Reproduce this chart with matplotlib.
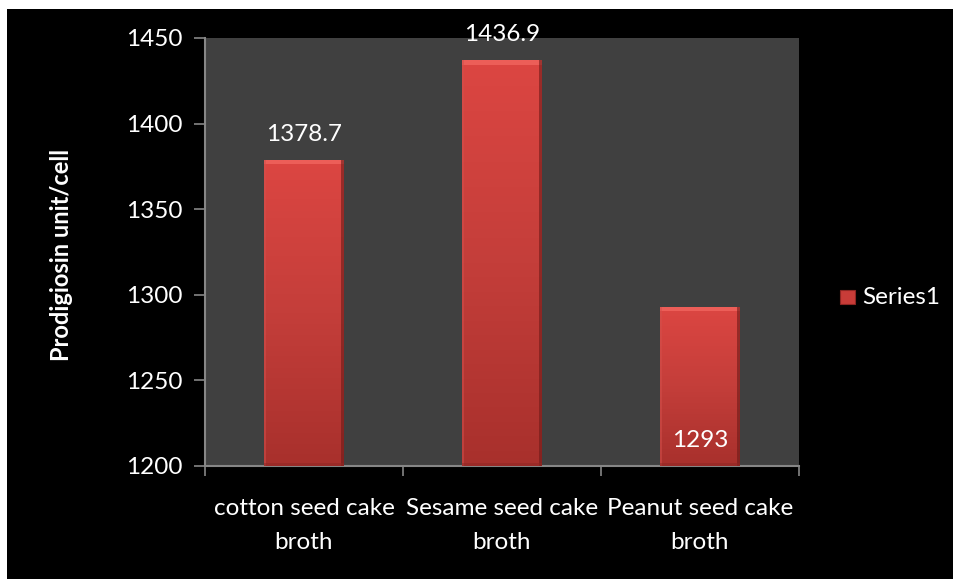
import matplotlib
matplotlib.use("Agg")
import matplotlib.pyplot as plt
import numpy as np
from matplotlib.patches import Rectangle
from matplotlib.colors import LinearSegmentedColormap

categories = ["cotton seed cake\nbroth", "Sesame seed cake\nbroth", "Peanut seed cake\nbroth"]
values = [1378.7, 1436.9, 1293]
value_labels = ["1378.7", "1436.9", "1293"]
yticks = [1200, 1250, 1300, 1350, 1400, 1450]
series_name = "Series1"
ylabel = "Prodigiosin unit/cell"

plt.rcParams['font.family'] = ['Lato', 'DejaVu Sans']
W, H = 954, 579
FS = 17.5
fig = plt.figure(figsize=(W/100, H/100), dpi=100, facecolor="white")
bg = Rectangle((7/W, 0), 1 - 7/W, 1 - 9/H, transform=fig.transFigure,
               facecolor="black", edgecolor="none", zorder=-10)
fig.add_artist(bg)

ax = fig.add_axes([205/W, 1 - 466/H, (799-205)/W, (466-38)/H])
ax.set_zorder(1)
ax.set_facecolor("#404040")
ax.set_ylim(1200, 1450)
ax.set_xlim(-0.5, 2.5)

x = np.arange(len(values))
bw = 0.4
bars = ax.bar(x, [v - 1200 for v in values], bottom=1200, width=bw,
              color="#C83C38", edgecolor="none", zorder=2)

cmap = LinearSegmentedColormap.from_list("r", ["#A8302C", "#C43E3A", "#DC4642"])
grad = np.linspace(0, 1, 256).reshape(-1, 1)
for b in bars:
    x0, y0 = b.get_x(), b.get_y()
    w, h = b.get_width(), b.get_height()
    im = ax.imshow(grad, extent=[x0, x0 + w, y0, y0 + h], origin="lower",
                   cmap=cmap, aspect="auto", zorder=3)
    im.set_clip_path(b)
    ax.add_patch(Rectangle((x0, y0 + h - 2.5), w, 2.5, facecolor="#EC5E58",
                           edgecolor="none", zorder=4))
    ax.add_patch(Rectangle((x0 + w - 0.012, y0), 0.012, h, facecolor="#6E1A18",
                           edgecolor="none", alpha=0.6, zorder=4))
    ax.add_patch(Rectangle((x0, y0), 0.008, h, facecolor="#D4504C",
                           edgecolor="none", alpha=0.5, zorder=4))
    ax.add_patch(Rectangle((x0, y0), w, 2.0, facecolor="#8E2623",
                           edgecolor="none", alpha=0.5, zorder=4))
ax.set_xlim(-0.5, 2.5)
ax.set_ylim(1200, 1450)

for i, (v, lab) in enumerate(zip(values, value_labels)):
    if i == 2:
        ax.text(i, 1215, lab, ha="center", va="center", color="white", fontsize=FS, zorder=5)
    else:
        ax.text(i, v + 15, lab, ha="center", va="center", color="white", fontsize=FS,
                zorder=5, clip_on=False)

ax.set_yticks(yticks)
ax.set_yticklabels([str(t) for t in yticks], color="white", fontsize=FS)
ax.set_xticks(x)
ax.set_xticklabels(categories, color="white", fontsize=FS, linespacing=1.75)
ax.set_xticks([-0.5, 0.5, 1.5, 2.5], minor=True)
ax.tick_params(axis="x", which="major", length=0, pad=23)
ax.tick_params(axis="x", which="minor", length=7, color="#868686", width=1.2)
ax.tick_params(axis="y", length=8, color="#868686", width=1.2, pad=8)
for s in ["top", "right"]:
    ax.spines[s].set_visible(False)
for s in ["left", "bottom"]:
    ax.spines[s].set_color("#868686")
    ax.spines[s].set_linewidth(1.5)

fig.text(62/W, 1 - 255/H, ylabel, rotation=90, ha="center", va="center",
         color="white", fontsize=17, fontweight="bold")

lx, ly = 840, 290
fig.add_artist(Rectangle((lx/W, 1 - (ly+14)/H), 15/W, 14/H, transform=fig.transFigure,
                         facecolor="#C83C38", edgecolor="#8E2623", linewidth=0.8, zorder=3))
fig.text(862/W, 1 - 297/H, series_name, ha="left", va="center", color="white", fontsize=FS)

fig.savefig("out.png", dpi=100, facecolor=fig.get_facecolor())
